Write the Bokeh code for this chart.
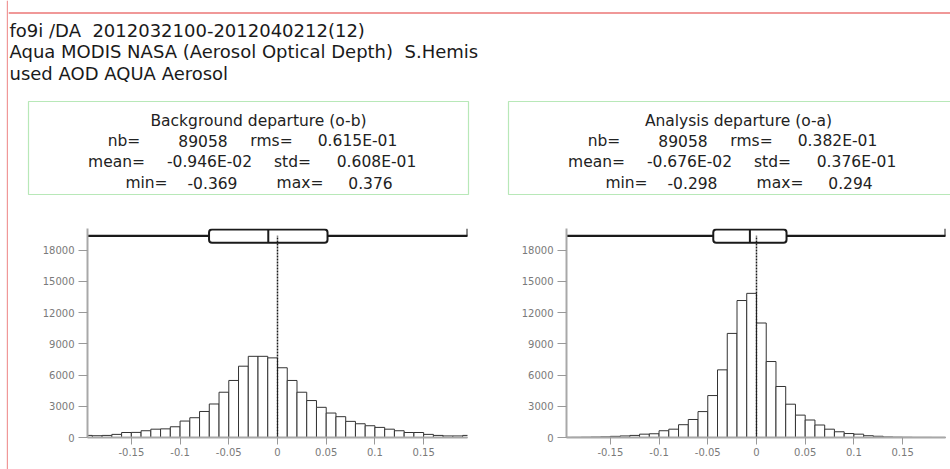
import math
from bokeh.plotting import figure
from bokeh.models import Range1d, FixedTicker, CustomJSTickFormatter
from bokeh.layouts import row, column
from bokeh.embed import file_html
from bokeh.resources import INLINE
from bokeh.core.properties import value

# ---------------- data ----------------
header_lines = [
    "fo9i /DA \u00a02012032100-2012040212(12)",
    "Aqua MODIS NASA (Aerosol Optical Depth) \u00a0S.Hemis",
    "used AOD AQUA Aerosol",
]
panel_titles = ["Background departure (o-b)", "Analysis departure (o-a)"]
stat_nb = [89058, 89058]
stat_rms = [0.0615, 0.0382]
stat_mean = [-0.00946, -0.00676]
stat_std = [0.0608, 0.0376]
stat_min = [-0.369, -0.298]
stat_max = [0.376, 0.294]

# histogram bins: left edges, width 0.01
bin_left = [round(-0.20 + 0.01 * i, 2) for i in range(40)]
bin_width = 0.01
counts_ob = [200, 170, 200, 300, 480, 490, 650, 800, 830, 1030,
             1580, 1900, 2500, 3220, 4350, 5480, 6850, 7800, 7800, 7650,
             6700, 5480, 4350, 3550, 2900, 2350, 2000, 1550, 1320, 1130,
             970, 800, 650, 480, 480, 300, 200, 150, 150, 200]
counts_oa = [10, 15, 25, 40, 60, 110, 150, 200, 320, 360,
             650, 800, 1230, 1730, 2490, 4030, 6500, 10000, 13160, 13850,
             11000, 7300, 4900, 3200, 2150, 1680, 1200, 800, 550, 380,
             320, 170, 120, 50, 30, 20, 10, 10, 5, 5]
x_ticks = [-0.15, -0.1, -0.05, 0, 0.05, 0.1, 0.15]
y_ticks = [0, 3000, 6000, 9000, 12000, 15000, 18000]

FONT = value("DejaVu Sans")
PINK = "#f09898"


def fort_e(v):
    if v == 0:
        return "0.000E+00"
    e = math.floor(math.log10(abs(v))) + 1
    m = v / 10 ** e
    return f"{m:.3f}E{e:+03d}"


def blank(p):
    p.grid.visible = False
    return p


# ---------------- left strip with pink rule ----------------
strip = blank(figure(width=8, height=469, x_range=Range1d(0, 8), y_range=Range1d(0, 469),
                     min_border=0, toolbar_location=None, output_backend="svg",
                     x_axis_location=None, y_axis_location=None, outline_line_color=None))
strip.segment(x0=[7.2], y0=[0], x1=[7.2], y1=[469], line_color=PINK, line_width=1.8)

# ---------------- top figure (header + stats boxes) ----------------
top = blank(figure(width=942, height=200, x_range=Range1d(8, 950), y_range=Range1d(200, 0),
                   min_border=0, toolbar_location=None, output_backend="svg",
                   x_axis_location=None, y_axis_location=None, outline_line_color=None))
top.segment(x0=[8], y0=[12.5], x1=[950], y1=[12.5], line_color=PINK, line_width=1.8)
top.text(x=[9, 9, 9], y=[29.5, 51, 72.5], text=header_lines, text_font=FONT,
         text_font_size="18px", text_baseline="alphabetic", text_align="left",
         text_color="#1a1a1a")

for k in range(2):
    dx = 480 * k
    top.quad(left=[28 + dx], right=[468 + dx if k == 0 else 990], top=[101], bottom=[194],
             fill_color=None, line_color="#b8e8b8", line_width=1.2)
    txt = [panel_titles[k],
           "nb=", f"{stat_nb[k]}", "rms=", fort_e(stat_rms[k]),
           "mean=", fort_e(stat_mean[k]), "std=", fort_e(stat_std[k]),
           "min=", f"{stat_min[k]:.3f}", "max=", f"{stat_max[k]:.3f}"]
    xs = [258, 123.5, 202.5, 271, 357, 116, 209, 292, 376, 146, 212, 299.5, 370]
    ys = [120, 140.5, 140.5, 140.5, 140.5, 161.5, 161.5, 161.5, 161.5, 182, 182, 182, 182]
    top.text(x=[x + dx for x in xs], y=ys, text=txt, text_font=FONT,
             text_font_size="15.5px", text_baseline="alphabetic", text_align="center",
             text_color="#222222")


# ---------------- histogram figures ----------------
def hist_fig(k, counts, x_end, frame_w, border_l, border_r):
    p = blank(figure(frame_width=frame_w, frame_height=209,
                     min_border_left=border_l, min_border_right=border_r,
                     min_border_top=28, min_border_bottom=32,
                     x_range=Range1d(-0.195, x_end), y_range=Range1d(0, 20080),
                     toolbar_location=None, output_backend="svg", outline_line_color=None))
    p.quad(left=bin_left, right=[b + bin_width for b in bin_left], top=counts, bottom=0,
           fill_color="white", line_color="#333333", line_width=1)

    m, s = stat_mean[k], stat_std[k]
    wy = 19375
    xe = x_end if stat_max[k] > x_end else stat_max[k]
    # whisker line (min..max) and end mark
    p.segment(x0=[stat_min[k]], y0=[wy], x1=[stat_max[k]], y1=[wy],
              line_color="#1a1a1a", line_width=2.2)
    p.segment(x0=[xe], y0=[wy], x1=[xe], y1=[20080], line_color="#1a1a1a", line_width=2)
    # box: mean +/- std, line at mean
    p.quad(left=[m - s], right=[m + s], bottom=[18700], top=[19980],
           fill_color="white", line_color="#1a1a1a", line_width=2, border_radius=3)
    p.segment(x0=[m], y0=[18700], x1=[m], y1=[19980], line_color="#1a1a1a", line_width=2)
    # zero line
    p.segment(x0=[0], y0=[0], x1=[0], y1=[wy], line_color="#1a1a1a",
              line_width=1.5, line_dash="2 1")

    for ax in (p.xaxis[0], p.yaxis[0]):
        ax.axis_line_color = "#a8a8a8"
        ax.axis_line_width = 2
        ax.major_tick_line_color = "#999999"
        ax.major_tick_in = 0
        ax.minor_tick_line_color = None
        ax.major_label_text_font = "DejaVu Sans"
        ax.major_label_text_font_size = "10px"
        ax.major_label_text_color = "#7a7a7a"
    p.xaxis.ticker = FixedTicker(ticks=x_ticks)
    p.xaxis.formatter = CustomJSTickFormatter(
        code="return tick.toFixed(2).replace(/\\.?0+$/, '');")
    p.xaxis.major_tick_out = 7
    p.xaxis.major_label_standoff = 3
    p.yaxis.ticker = FixedTicker(ticks=y_ticks)
    p.yaxis.major_tick_out = 9
    p.yaxis.major_label_standoff = 4
    return p


left = hist_fig(0, counts_ob, 0.195, 380, 79, 20)
right = hist_fig(1, counts_oa, 0.194, 379, 79, 5)

layout = row(strip, column(top, row(left, right)))
open("out.html", "w").write(file_html(layout, INLINE))
